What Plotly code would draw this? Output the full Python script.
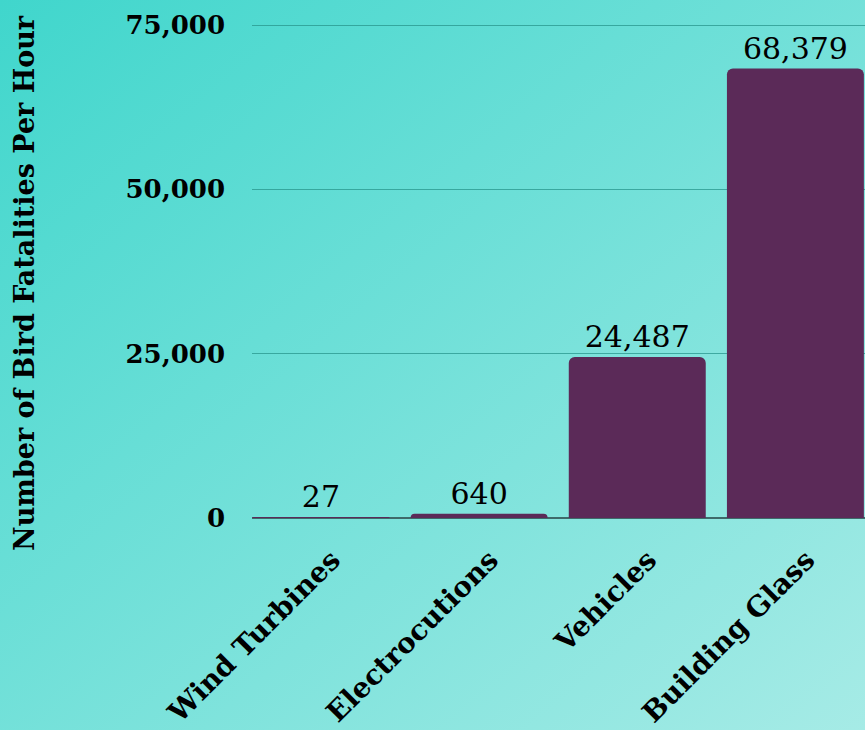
import base64
import plotly.graph_objects as go

categories = ["Wind Turbines", "Electrocutions", "Vehicles", "Building Glass"]
values = [27, 640, 24487, 68379]
value_labels = ["27", "640", "24,487", "68,379"]
y_ticks = [0, 25000, 50000, 75000]
y_tick_labels = ["0", "25,000", "50,000", "75,000"]

W, H = 865, 730
L, T, B = 252, 18, 212
PW, PH = W - L, H - T - B
svg = f'''<svg xmlns="http://www.w3.org/2000/svg" width="{W}" height="{H}" viewBox="0 0 {W} {H}" preserveAspectRatio="none">
<defs><linearGradient id="g" x1="0" y1="0" x2="1" y2="1">
<stop offset="0" stop-color="#40d6cc"/><stop offset="1" stop-color="#a6ebe6"/>
</linearGradient></defs>
<rect width="{W}" height="{H}" fill="url(#g)"/></svg>'''
bg = "data:image/svg+xml;base64," + base64.b64encode(svg.encode()).decode()

fig = go.Figure()
fig.add_trace(go.Bar(
    x=categories, y=values,
    marker=dict(color="#5b2a58", line=dict(width=0)),
    width=0.866,
    text=value_labels, textposition="outside", cliponaxis=False,
    textfont=dict(family="DejaVu Serif", size=30, color="#000000"),
))

fig.update_layout(
    width=W, height=H,
    margin=dict(l=L, r=0, t=T, b=B, pad=0),
    paper_bgcolor="rgba(0,0,0,0)", plot_bgcolor="rgba(0,0,0,0)",
    barcornerradius=6,
    showlegend=False,
    images=[dict(source=bg, xref="paper", yref="paper", x=-L / PW, y=1 + T / PH,
                 sizex=W / PW, sizey=H / PH, xanchor="left", yanchor="top",
                 sizing="stretch", layer="below")],
    xaxis=dict(range=[-0.436, 3.44], tickangle=-45, showgrid=False, zeroline=False,
               showline=False, ticks="", ticklabelstandoff=19, ticklabelshift=11,
               tickfont=dict(family="DejaVu Serif", size=28, color="#000000", weight="bold")),
    yaxis=dict(range=[0, 76065], tickvals=y_ticks, ticktext=y_tick_labels,
               showgrid=True, gridcolor="rgba(40,150,140,0.75)", gridwidth=1,
               zeroline=True, zerolinecolor="#3e6a6a", zerolinewidth=1.5,
               showline=False, ticks="", ticklabelstandoff=26,
               tickfont=dict(family="DejaVu Serif", size=26, color="#000000", weight="bold")),
    annotations=[dict(text="Number of Bird Fatalities Per Hour", textangle=-90,
                      xref="paper", yref="paper", x=-(L - 24) / PW, y=(H - B - 283) / PH,
                      xanchor="center", yanchor="middle", showarrow=False,
                      font=dict(family="DejaVu Serif", size=27, color="#000000", weight="bold"))],
)

fig.write_html("out.html", config={"displayModeBar": False},
               post_script="document.body.style.margin='0';document.body.style.overflow='hidden';")
